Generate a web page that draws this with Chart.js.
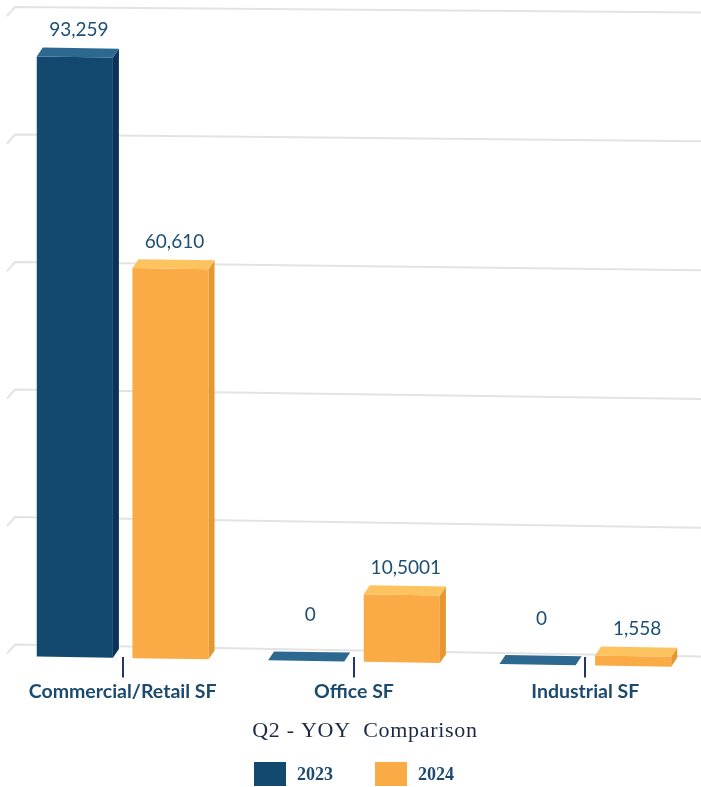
<!DOCTYPE html>
<html>
<head>
<meta charset="utf-8">
<script src="https://cdn.jsdelivr.net/npm/chart.js@4"></script>
<style>
	html, body { margin: 0; padding: 0; background: #fff; }
	#wrap { width: 701px; height: 787px; }
</style>
</head>
<body>
<div id="wrap"><canvas id="yoyChart"></canvas></div>
<script>
// chart data
const CATEGORIES   = ['Commercial/Retail SF', 'Office SF', 'Industrial SF'];
const SERIES_NAMES = ['2023', '2024'];
const VALUES_2023  = [93259, 0, 0];
const VALUES_2024  = [60610, 10500, 1558];
const LABELS_2023  = ['93,259', '0', '0'];
const LABELS_2024  = ['60,610', '10,5001', '1,558'];
const Y_MAX  = 100000,
	Y_STEP = 20000;
const TITLE = 'Q2 - YOY  Comparison';

// faces of the 3d boxes
const FRONT = ['#13496f', '#fbab45'],
	TOP   = ['#2d6891', '#fdc35f'],
	SIDE  = ['#0b3358', '#e69830'];
const DX = 6, DY = -9, SHEAR = 0.016;

const valueLabels = [LABELS_2023, LABELS_2024];

function poly(ctx, pts) {
	ctx.beginPath();
	ctx.moveTo(pts[0][0], pts[0][1]);
	for (let i = 1; i < pts.length; i++) ctx.lineTo(pts[i][0], pts[i][1]);
	ctx.closePath();
	ctx.fill();
}

const bars3d = {
	id: 'bars3d',
	beforeDatasetsDraw(chart) {
		const ctx = chart.ctx, a = chart.chartArea, y = chart.scales.y;
		// back wall grid, a bit in perspective
		ctx.save();
		ctx.strokeStyle = '#e3e3e3';
		ctx.lineWidth = 2;
		for (let v = 0; v <= Y_MAX; v += Y_STEP) {
			const t = v / Y_MAX;
			const yl = y.getPixelForValue(v) - (12 - 6 * t);
			const yr = yl + 12 - 6.5 * t;
			ctx.beginPath();
			ctx.moveTo(a.left, yl + 9);
			ctx.lineTo(a.left + 8, yl);
			ctx.lineTo(chart.width, yr);
			ctx.stroke();
		}
		ctx.restore();
		// floor slopes down to the right
		ctx.save();
		const x0 = a.left + 30;
		ctx.transform(1, SHEAR, 0, 1, 0, -SHEAR * x0);
	},
	afterDatasetsDraw(chart) {
		const ctx = chart.ctx, a = chart.chartArea;
		chart.data.datasets.forEach((ds, di) => {
			chart.getDatasetMeta(di).data.forEach(bar => {
				const xl = bar.x - bar.width / 2, xr = bar.x + bar.width / 2;
				const top = bar.y, base = bar.base;
				if (base - top > 0.5) {
					ctx.fillStyle = SIDE[di];
					poly(ctx, [[xr, top], [xr + DX, top + DY], [xr + DX, base + DY], [xr, base]]);
				}
				ctx.fillStyle = TOP[di];
				poly(ctx, [[xl, top], [xr, top], [xr + DX, top + DY], [xl + DX, top + DY]]);
			});
		});
		ctx.restore();

		// value labels
		ctx.save();
		ctx.font = '19px Lato';
		ctx.fillStyle = '#1d4f75';
		ctx.textAlign = 'center';
		ctx.textBaseline = 'middle';
		const x0 = a.left + 30;
		chart.data.datasets.forEach((ds, di) => {
			chart.getDatasetMeta(di).data.forEach((bar, i) => {
				const x = bar.x + DX / 2 + 1;
				const off = ds.data[i] === 0 ? 46 : 27;
				const yy = bar.y + SHEAR * (bar.x - x0) - off;
				ctx.fillText(valueLabels[di][i], x, yy);
			});
		});
		ctx.restore();
	},
	afterDraw(chart) {
		const ctx = chart.ctx, a = chart.chartArea;
		const cx = (a.left + a.right) / 2;
		ctx.save();
		// title
		ctx.font = '22px "Liberation Serif"';
		ctx.letterSpacing = '0.7px';
		ctx.fillStyle = '#1b2a42';
		ctx.textAlign = 'center';
		ctx.textBaseline = 'middle';
		ctx.fillText(TITLE, cx + 11, chart.height - 56);
		ctx.letterSpacing = '0px';

		// legend
		ctx.font = 'bold 18px "Liberation Serif"';
		ctx.textAlign = 'left';
		const ds = chart.data.datasets;
		const widths = ds.map(d => 32 + 11 + ctx.measureText(d.label).width);
		const total = widths.reduce((s, w) => s + w, 0) + 42 * (ds.length - 1);
		let x = cx - total / 2;
		const top = chart.height - 25;
		ds.forEach((d, i) => {
			ctx.fillStyle = d.backgroundColor;
			ctx.fillRect(x, top, 32, 24);
			ctx.fillStyle = '#1c4a6e';
			ctx.fillText(d.label, x + 43, top + 13);
			x += widths[i] + 42;
		});
		ctx.restore();
	}
};

window.onload = () => {
	const ctxChart = document.getElementById('yoyChart').getContext('2d');
	const chart = new Chart(ctxChart, {
		type: 'bar',
		data: {
			labels: CATEGORIES,
			datasets: [
				{ label: SERIES_NAMES[0], data: VALUES_2023, backgroundColor: FRONT[0], clip: false },
				{ label: SERIES_NAMES[1], data: VALUES_2024, backgroundColor: FRONT[1], clip: false }
			]
		},
		options: {
			responsive: true,
			maintainAspectRatio: false,
			animation: false,
			layout: {
				padding: { top: 13, left: 7, right: 0, bottom: 82 }
			},
			datasets: {
				bar: { categoryPercentage: 0.827, barPercentage: 0.796 }
			},
			scales: {
				x: {
					grid: {
						offset: false,
						drawOnChartArea: false,
						drawTicks: true,
						tickLength: 21,
						color: '#24356e',
						lineWidth: 2
					},
					border: { display: false },
					ticks: {
						padding: 2,
						color: '#1c4a6e',
						font: { family: 'Lato', size: 19.5, weight: 'bold' }
					}
				},
				y: {
					display: false,
					min: 0,
					max: Y_MAX
				}
			},
			plugins: {
				legend: { display: false },
				title: { display: false },
				tooltip: { enabled: false }
			}
		},
		plugins: [bars3d]
	});
};
</script>
</body>
</html>
